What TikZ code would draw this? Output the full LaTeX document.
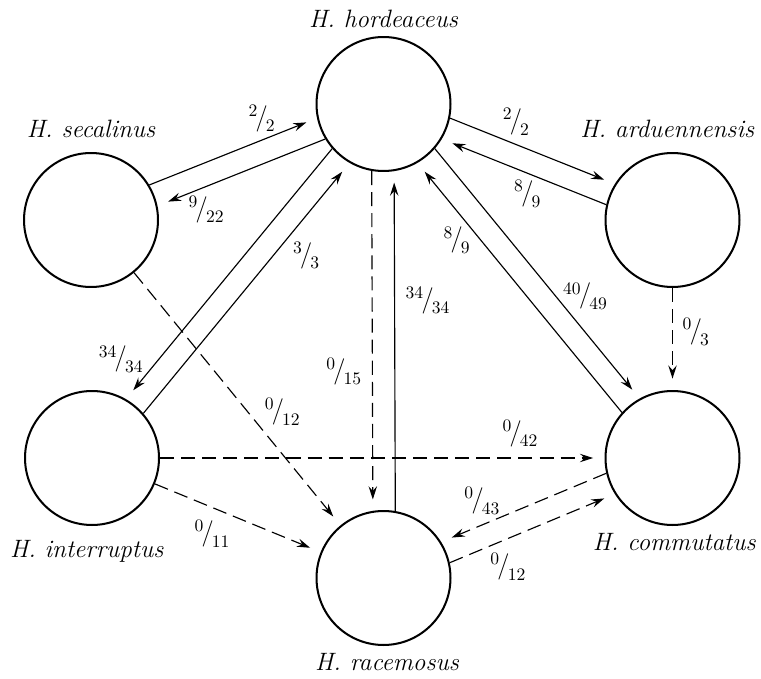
\documentclass[tikz,border=0pt]{standalone}
\usepackage{tikz}
\usetikzlibrary{positioning, arrows.meta}

\newcommand{\frc}[2]{\raisebox{5pt}{#1}\kern-1pt{\fontsize{15}{15}\selectfont/}\kern-1pt\raisebox{-3.8pt}{#2}}

\tikzset{
  species/.style={circle, draw, line width=1.15pt, minimum size=2.68cm, inner sep=0pt},
  spname/.style={font=\fontsize{14.3}{16}\selectfont\itshape, inner sep=0pt},
  cross/.style={line width=.65pt, -{Stealth[length=7.5pt, width=4.8pt, inset=2.7pt]}, shorten >=6.5pt},
  nocross/.style={cross, dash pattern=on 8pt off 4pt},
  ratio/.style={font=\fontsize{10}{11}\selectfont, inner sep=1pt}
}

\begin{document}
\begin{tikzpicture}[x=0.02cm, y=-0.02cm]
  \useasboundingbox (0,0) rectangle (761,679);

  \node[species] (hor) at (383.5,104) {};
  \node[species] (sec) at (91,220) {};
  \node[species] (ard) at (672.5,220) {};
  \node[species] (intr) at (92,458) {};
  \node[species] (com) at (672.5,458) {};
  \node[species] (rac) at (383.5,578) {};

  \node[spname, above=4.5pt of hor] (hor-name) {H.\ hordeaceus};
  \node[spname, above=8pt of sec] (sec-name) {H.\ secalinus};
  \node[spname, above=8pt of ard, xshift=-3pt] (ard-name) {H.\ arduennensis};
  \node[spname, below=8pt of intr, xshift=-3pt] (intr-name) {H.\ interruptus};
  \node[spname, below=4pt of com, xshift=1pt] (com-name) {H.\ commutatus};
  \node[spname, below=4pt of rac, xshift=2pt] (rac-name) {H.\ racemosus};

  % crosses with H. hordeaceus
  \draw[cross] (sec.31.2) -- node[ratio, pos=.67, above=3.5pt] {\frc{2}{2}} (hor.192.2);
  \draw[cross] (hor.211.2) -- node[ratio, pos=.71, below=4pt] {\frc{9}{22}} (sec.12.2);
  \draw[cross] (hor.-12.4) -- node[ratio, pos=.4, above=4pt] {\frc{2}{2}} (ard.148.6);
  \draw[cross] (ard.167.6) -- node[ratio, pos=.48, below=2.5pt] {\frc{8}{9}} (hor.-31.4);
  \draw[cross] (hor.221.1) -- node[ratio, pos=.84, left=8pt] {\frc{34}{34}} (intr.60.1);
  \draw[cross] (intr.41.1) -- node[ratio, pos=.63, right=10pt] {\frc{3}{3}} (hor.240.1);
  \draw[nocross] (hor.260.5) -- node[ratio, pos=.59, left=5pt] {\frc{0}{15}} (rac.99.5);
  \draw[cross] (rac.80.5) -- node[ratio, pos=.62, right=5pt] {\frc{34}{34}} (hor.279.5);
  \draw[cross] (hor.-41.2) -- node[ratio, pos=.59, right=3pt] {\frc{40}{49}} (com.119.8);
  \draw[cross] (com.138.8) -- node[ratio, pos=.69, left=5pt] {\frc{8}{9}} (hor.-60.2);

  % no seed set
  \draw[nocross] (ard) -- node[ratio, pos=.43, right=4.5pt] {\frc{0}{3}} (com);
  \draw[nocross] (intr) -- node[ratio, pos=.81, above=5pt] {\frc{0}{42}} (com);
  \draw[nocross] (sec) -- node[ratio, pos=.55, right=8.5pt] {\frc{0}{12}} (rac);
  \draw[nocross] (intr) -- node[ratio, pos=.345, below=6pt] {\frc{0}{11}} (rac);
  \draw[nocross] (com.193) -- node[ratio, pos=.753, above=4.5pt] {\frc{0}{43}} (rac.32);
  \draw[nocross] (rac.13) -- node[ratio, pos=.352, below=7pt] {\frc{0}{12}} (com.212);
\end{tikzpicture}
\end{document}
